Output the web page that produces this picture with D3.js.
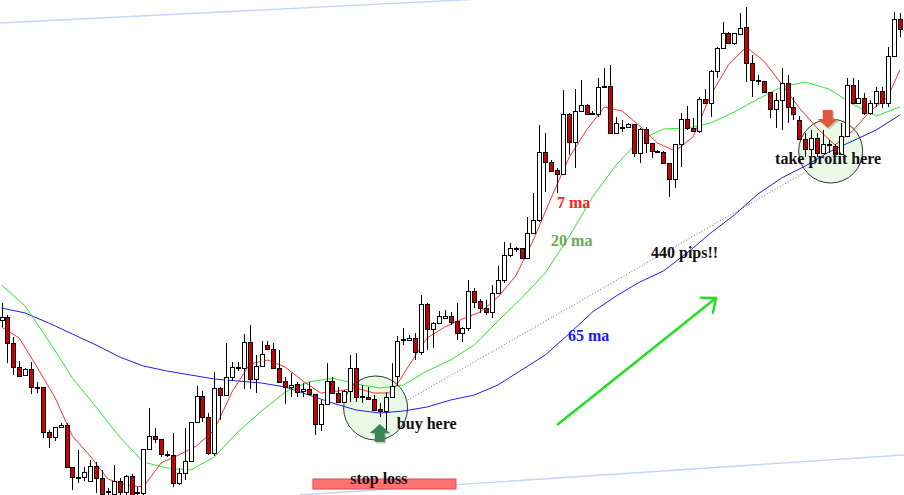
<!DOCTYPE html>
<html><head><meta charset="utf-8">
<script src="https://cdn.jsdelivr.net/npm/d3@7"></script>
<style>html,body{margin:0;padding:0;background:#fff;} svg{display:block;}</style>
</head><body><svg id="c" width="904" height="495"></svg>
<script>
// ---- candle data (price units) ----
const open=[180,183,157,133,125,131,113,113,68,63,73,75,33,23,23,19,34,22,8,6,19,8,24,8,7,51,64,61,46,45,17,27,39,78,104,83,47,112,105,123,133,132,158,121,134,155,151,132,119,113,116,109,111,106,76,96,119,107,98,109,132,104,103,101,91,89,103,124,161,160,162,148,196,171,177,182,184,179,167,172,209,199,192,188,207,220,245,252,252,242,267,280,348,338,330,326,386,358,389,395,387,386,414,414,367,373,373,376,347,371,357,349,348,337,321,356,381,372,369,401,397,429,452,467,457,466,473,437,420,419,408,391,400,417,393,380,361,351,362,347,356,354,346,364,415,397,402,387,397,409,397,444,481];
const close=[183,157,133,124,131,113,112,68,63,73,75,33,23,22,28,34,22,6,9,19,8,24,5,7,51,64,61,46,45,17,27,39,78,104,83,47,112,105,123,133,132,158,121,134,146,151,132,118,113,115,108,111,106,76,96,119,107,98,109,132,103,103,101,90,89,103,114,159,160,162,148,196,171,177,184,184,178,167,172,209,198,192,188,207,220,245,252,251,242,267,280,348,338,329,326,386,358,389,395,386,386,413,413,367,377,372,376,347,371,357,349,348,337,321,356,381,372,369,401,397,429,452,467,457,467,472,437,420,419,408,391,400,417,393,386,361,351,362,347,356,355,346,364,415,397,402,387,397,409,397,444,481,471];
const high=[197,185,163,139,132,138,118,113,70,73,77,77,33,50,33,40,38,30,12,35,22,25,26,13,51,92,72,61,49,67,32,72,78,114,109,87,128,113,157,138,138,166,175,145,159,159,157,150,123,127,118,117,118,106,100,137,123,113,110,145,147,115,113,105,97,108,137,164,172,165,167,205,197,178,189,190,188,197,173,220,212,201,200,215,234,258,257,253,252,283,307,375,367,340,332,410,387,411,420,396,389,422,432,435,383,380,377,376,372,373,357,350,349,337,356,387,394,382,403,411,430,453,478,468,467,487,493,445,425,419,408,407,432,425,403,384,367,370,367,370,360,356,377,422,422,420,407,400,413,413,453,488,487];
const low=[173,137,125,124,124,106,107,62,52,59,72,32,10,17,19,18,7,3,3,3,5,5,3,3,3,51,57,43,43,13,15,20,39,78,78,45,44,80,105,119,129,111,111,107,134,150,131,117,96,103,103,103,105,65,69,96,106,98,97,98,98,97,101,90,83,70,102,114,155,159,140,145,150,152,177,181,175,160,158,169,192,187,185,182,206,217,243,248,241,241,267,278,308,328,307,325,345,332,388,385,385,383,413,367,366,368,372,343,337,347,342,347,336,303,312,333,370,368,367,396,383,422,452,456,455,466,418,403,415,407,382,372,370,377,380,361,343,344,343,346,347,345,345,363,397,397,385,385,393,392,393,443,463];

// ---- moving averages ----
const ma7Index=d3.range(0,151,3).concat([152]);
const ma7=[173,162,133,103,64,44,21,15,13,37,45,54,70,108,136,140,133,119,107,109,112,107,107,135,162,173,181,188,203,224,260,302,342,370,393,389,374,357,349,363,405,435,453,439,416,392,372,355,369,389,403,430];
const maIndex=d3.range(0,153,4);
const ma20=[215,194,159,122,93,63,38,32,30,43,68,89,108,118,122,116,112,115,129,140,155,179,202,227,263,303,335,360,371,372,377,388,401,413,418,411,396,384,393];
const ma65=[192,187,177,166,155,143,134,129,125,121,119,117,113,105,97,90,87,89,93,100,105,115,130,145,166,188,204,218,229,247,267,285,306,322,334,348,359,370,385];

// ---- annotations (candle index, price) ----
const labels=[
 {t:"7 ma", i:94.0, p:292, c:"#ff2020"},
 {t:"20 ma", i:93.0, p:254, c:"#6aa84f"},
 {t:"440 pips!!", i:109.9, p:242, c:"#111"},
 {t:"65 ma", i:95.85, p:159, c:"#1a1aee"},
 {t:"buy here", i:66.9, p:71, c:"#111"},
 {t:"take profit here", i:130.9, p:336, c:"#111"},
 {t:"stop loss", i:59.0, p:16, c:"#111"}
];
const circles=[{i:63.3,p:92},{i:140.3,p:349}];
const profitLine=[{i:65.2,p:88},{i:137.2,p:332}];
const trendUp=[{i:94.0,p:75},{i:120.9,p:202}];
const channelTop=[{i:-0.25,p:477},{i:152.7,p:522}];
const channelBottom=[{i:50.5,p:5},{i:152.7,p:45}];
const stopLoss={i0:52.7,i1:76.9,p0:21,p1:11};
const buyArrow={i:64.0,p:76};
const sellArrow={i:139.8,p:372};

const W=904,H=495;
const svg=d3.select("#c");
const x=d3.scaleLinear().domain([0,152]).range([1.5,899.8]);
const y=d3.scaleLinear().domain([5,500]).range([495,0]);
const idx=d3.range(open.length);

// channel lines
const ln=d3.line().x(d=>x(d.i)).y(d=>y(d.p));
[channelTop,channelBottom].forEach(c=>svg.append("path").attr("d",ln(c)).attr("fill","none").attr("stroke","#c3d4f6").attr("stroke-width",1.4));

// dotted profit line
svg.append("path").attr("d",ln(profitLine)).attr("fill","none").attr("stroke","#666").attr("stroke-width",1).attr("stroke-dasharray","1,2");

// circles
svg.selectAll("circle.zone").data(circles).join("circle").attr("class","zone")
 .attr("cx",d=>x(d.i)).attr("cy",d=>y(d.p)).attr("r",32)
 .attr("fill","#e6f8e2").attr("fill-opacity",0.85).attr("stroke","#333").attr("stroke-width",1);

// moving averages
const lineIdx=(ix)=>d3.line().x((d,k)=>x(ix[k])).y(d=>y(d));
svg.append("path").attr("d",lineIdx(maIndex)(ma65)).attr("fill","none").attr("stroke","#1e1eee").attr("stroke-width",1);
svg.append("path").attr("d",lineIdx(maIndex)(ma20)).attr("fill","none").attr("stroke","#2ee82e").attr("stroke-width",1);
svg.append("path").attr("d",lineIdx(ma7Index)(ma7)).attr("fill","none").attr("stroke","#ff3030").attr("stroke-width",1);

// candles
const cx=d=>Math.round(x(d));
const g=svg.append("g");
g.selectAll("line").data(idx).join("line")
 .attr("x1",d=>cx(d)+0.5).attr("x2",d=>cx(d)+0.5)
 .attr("y1",d=>y(high[d])).attr("y2",d=>y(low[d]))
 .attr("stroke","#000").attr("stroke-width",1);
g.selectAll("rect").data(idx).join("rect")
 .attr("x",d=>cx(d)-1.5).attr("width",4)
 .attr("y",d=>Math.round(y(Math.max(open[d],close[d])))+0.5)
 .attr("height",d=>Math.max(1,Math.round(Math.abs(open[d]-close[d])*(y(0)-y(1)))))
 .attr("fill",d=>close[d]>=open[d]?"#fff":"#cc0000")
 .attr("stroke","#000").attr("stroke-width",1);

// stop loss bar
svg.append("rect").attr("x",x(stopLoss.i0)).attr("y",y(stopLoss.p0)).attr("width",x(stopLoss.i1)-x(stopLoss.i0)).attr("height",y(stopLoss.p1)-y(stopLoss.p0))
 .attr("fill","#ff7272").attr("stroke","#e04848").attr("stroke-width",1);

// big trend arrow
const a0={x:x(trendUp[0].i),y:y(trendUp[0].p)}, a1={x:x(trendUp[1].i),y:y(trendUp[1].p)};
const ang=Math.atan2(a1.y-a0.y,a1.x-a0.x);
svg.append("line").attr("x1",a0.x).attr("y1",a0.y).attr("x2",a1.x).attr("y2",a1.y).attr("stroke","#22e022").attr("stroke-width",2.5);
const hl=15;
[ang+Math.PI*0.78, ang-Math.PI*0.78].forEach(a=>{
 svg.append("line").attr("x1",a1.x).attr("y1",a1.y).attr("x2",a1.x+hl*Math.cos(a)).attr("y2",a1.y+hl*Math.sin(a)).attr("stroke","#22e022").attr("stroke-width",2.5).attr("stroke-linecap","round");
});

// block arrows
function blockArrow(tx,ty,dir,fill){
 // dir: -1 points up, 1 points down (tip at tx,ty)
 const hw=10, sw=5, hh=9, sl=9;
 const pts=[[0,0],[hw,-dir*hh],[sw,-dir*hh],[sw,-dir*(hh+sl)],[-sw,-dir*(hh+sl)],[-sw,-dir*hh],[-hw,-dir*hh]];
 const p=pts.map(q=>[tx+q[0],ty+q[1]].join(",")).join(" ");
 const sh=pts.map(q=>[tx+q[0]+1.5,ty+q[1]+1.5].join(",")).join(" ");
 svg.append("polygon").attr("points",sh).attr("fill","#000").attr("opacity",0.2);
 svg.append("polygon").attr("points",p).attr("fill",fill);
}
blockArrow(x(buyArrow.i),y(buyArrow.p),-1,"#3a8658");
blockArrow(x(sellArrow.i),y(sellArrow.p),1,"#e0583e");

// labels
svg.selectAll("text.lab").data(labels).join("text").attr("class","lab")
 .attr("x",d=>x(d.i)).attr("y",d=>y(d.p)).text(d=>d.t)
 .attr("fill",d=>d.c).attr("font-family","'Liberation Serif','Times New Roman',serif")
 .attr("font-weight","bold").attr("font-size",16);
</script></body></html>
